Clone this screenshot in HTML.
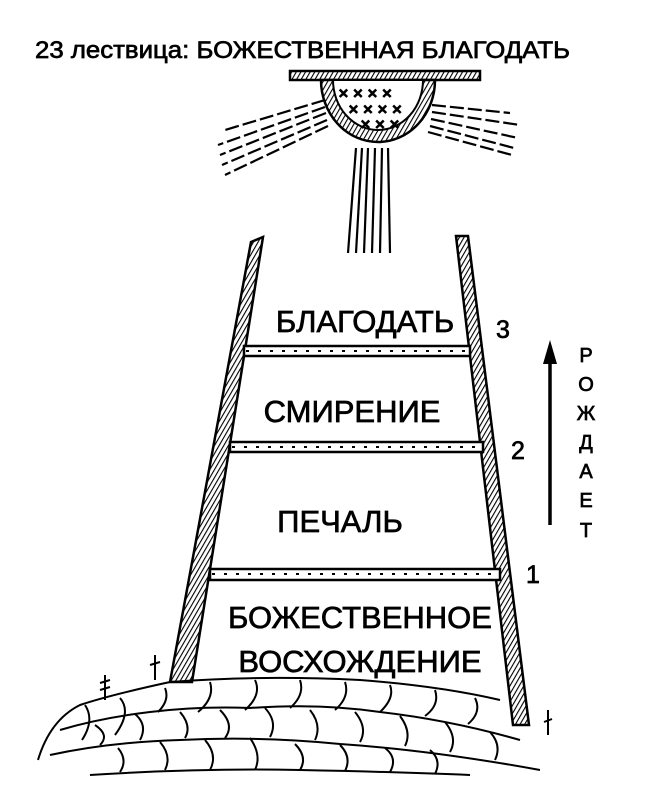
<!DOCTYPE html>
<html><head><meta charset="utf-8"><style>
html,body{margin:0;padding:0;background:#fff;}
svg{display:block}
text{font-family:"Liberation Sans",sans-serif;fill:#000;stroke:#000;stroke-width:0.7}
</style></head><body>
<svg width="658" height="798" viewBox="0 0 658 798" xmlns="http://www.w3.org/2000/svg">
<defs>
<pattern id="hatch" width="4" height="4" patternUnits="userSpaceOnUse" patternTransform="rotate(30)">
<rect width="4" height="4" fill="#fff"/><line x1="0" y1="0" x2="0" y2="4" stroke="#000" stroke-width="2.2"/>
</pattern>
</defs>
<text x="35" y="58" font-size="24" textLength="535" lengthAdjust="spacingAndGlyphs">23 лествица: БОЖЕСТВЕННАЯ БЛАГОДАТЬ</text>
<!-- sun bar -->
<rect x="290" y="71" width="190" height="9" fill="url(#hatch)" stroke="#000" stroke-width="2.5"/>
<path d="M321 80 A57 62 0 0 0 435 80 Z" fill="url(#hatch)" stroke="#000" stroke-width="2.5"/>
<path d="M333 80 A45 50 0 0 0 423 80 Z" fill="#fff" stroke="#000" stroke-width="2"/>
<g font-size="13" font-weight="bold"><text x="338" y="98">✕ ✕ ✕ ✕</text><text x="348" y="114">✕ ✕ ✕ ✕</text><text x="360" y="129">✕ ✕ ✕</text></g>
<!-- rays -->
<g stroke="#000" stroke-width="2.2" stroke-dasharray="14 4">
<line x1="325" y1="100" x2="225" y2="130"/><line x1="325" y1="107" x2="218" y2="145"/>
<line x1="326" y1="113" x2="220" y2="155"/><line x1="327" y1="120" x2="222" y2="165"/><line x1="328" y1="126" x2="225" y2="175"/>
<line x1="432" y1="105" x2="510" y2="113"/><line x1="432" y1="112" x2="520" y2="125"/><line x1="431" y1="119" x2="518" y2="138"/>
<line x1="430" y1="126" x2="514" y2="148"/><line x1="428" y1="132" x2="512" y2="155"/>
</g>
<g stroke="#000" stroke-width="2.2">
<line x1="356" y1="148" x2="348" y2="253"/><line x1="362" y1="148" x2="356" y2="253"/><line x1="368" y1="148" x2="364" y2="253"/>
<line x1="375" y1="148" x2="372" y2="253"/><line x1="382" y1="148" x2="380" y2="253"/><line x1="388" y1="148" x2="390" y2="253"/>
</g>
<!-- rails -->
<polygon points="251,242 263,237 192,682 170,682" fill="url(#hatch)" stroke="#000" stroke-width="2.5"/>
<polygon points="456,236 468,236 529,725 513,725" fill="url(#hatch)" stroke="#000" stroke-width="2.5"/>
<!-- rungs -->
<g fill="#fff" stroke="#000" stroke-width="2.5">
<rect x="244" y="346" width="226" height="10"/>
<rect x="230" y="442" width="253" height="10"/>
<rect x="210" y="569" width="290" height="11"/>
</g>
<g stroke="#000" stroke-width="2" stroke-dasharray="3 9">
<line x1="246" y1="351" x2="468" y2="351"/><line x1="232" y1="447" x2="481" y2="447"/><line x1="212" y1="574" x2="498" y2="574"/>
</g>
<g font-size="31" text-anchor="middle">
<text x="365" y="332">БЛАГОДАТЬ</text>
<text x="352" y="422">СМИРЕНИЕ</text>
<text x="340" y="532">ПЕЧАЛЬ</text>
<text x="360" y="628">БОЖЕСТВЕННОЕ</text>
<text x="360" y="672">ВОСХОЖДЕНИЕ</text>
</g>
<g font-size="25"><text x="496" y="338">3</text><text x="511" y="459">2</text><text x="526" y="583">1</text></g>
<line x1="550" y1="360" x2="550" y2="525" stroke="#000" stroke-width="3.5"/>
<polygon points="550,340 543,364 557,364" fill="#000"/>
<g font-size="20" text-anchor="middle">
<text x="586" y="362">Р</text><text x="586" y="391">О</text><text x="586" y="420">Ж</text><text x="586" y="449">Д</text>
<text x="586" y="478">А</text><text x="586" y="507">Е</text><text x="586" y="537">Т</text>
</g>
<!-- stones -->
<g fill="none" stroke="#000" stroke-width="2">
<path d="M38 760 Q50 720 80 705 Q110 695 170 682 Q260 675 360 680 Q440 686 500 700"/>
<path d="M60 730 Q100 718 150 712 Q200 706 250 708 Q320 703 380 712 Q450 720 520 740"/>
<path d="M50 755 Q110 742 180 740 Q260 736 340 744 Q430 750 540 770"/>
<path d="M90 775 Q200 768 300 770 Q400 772 470 775"/>
<path d="M85 705 Q95 720 82 740 M120 698 Q132 712 115 735 M165 688 Q170 700 158 712 M210 682 Q215 698 198 712 M255 680 Q262 695 245 710 M300 680 Q305 695 290 708 M345 682 Q350 697 335 710 M390 685 Q395 698 380 712 M435 690 Q440 705 425 716 M475 698 Q482 712 468 724"/>
<path d="M100 745 Q110 735 95 725 M140 740 Q148 725 135 714 M185 738 Q192 726 180 712 M225 738 Q235 725 220 710 M270 737 Q278 722 265 708 M315 740 Q322 725 310 710 M360 742 Q368 728 355 712 M405 746 Q412 732 400 716 M450 752 Q458 738 445 722 M495 760 Q502 745 490 732"/>
<path d="M120 772 Q128 760 118 748 M165 770 Q172 756 160 742 M210 770 Q218 755 205 740 M255 770 Q262 755 250 738 M300 770 Q308 757 295 744 M345 771 Q352 757 340 745 M390 772 Q398 758 385 748 M435 774 Q442 760 430 750"/>
<path d="M105 700 l0 -25 M100 690 l10 -3 M100 683 l10 -3 M155 680 l0 -25 M150 665 l10 -3 M548 735 l0 -25 M544 722 l8 -3"/>
</g>
</svg>
</body></html>
